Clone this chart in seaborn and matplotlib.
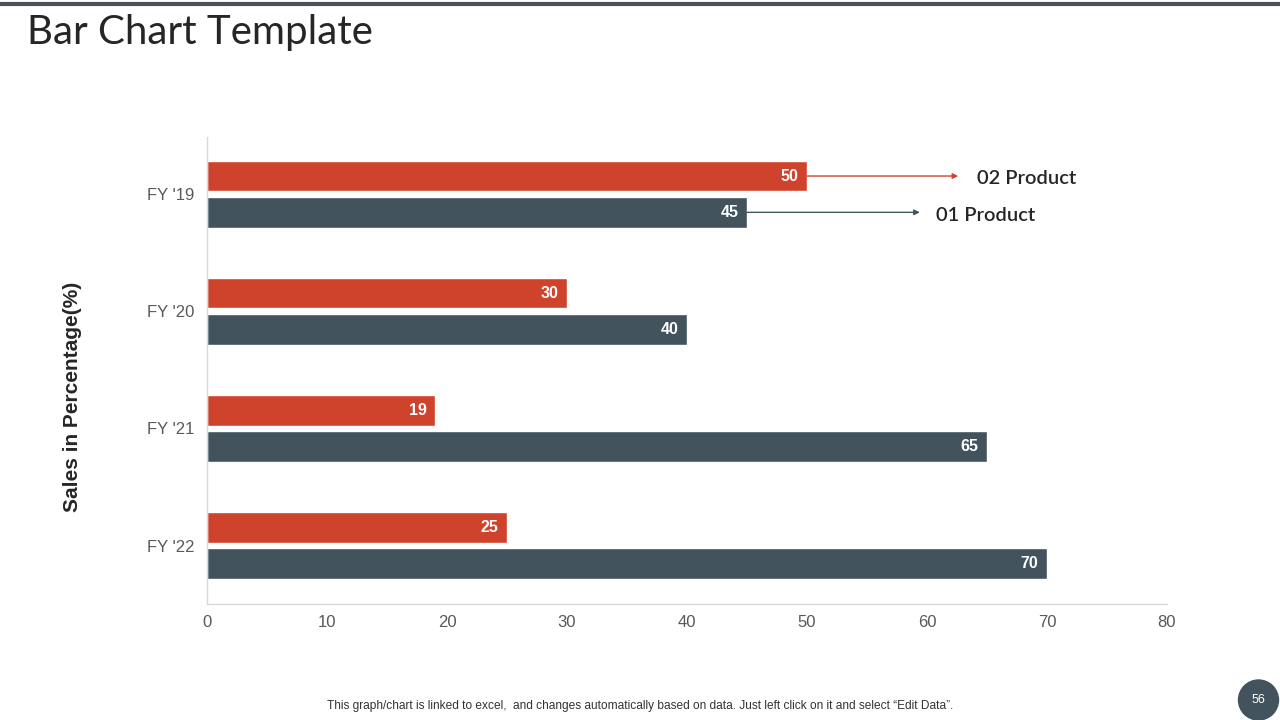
import matplotlib
matplotlib.use('Agg')
import matplotlib.pyplot as plt
from matplotlib.patches import Circle
import seaborn as sns
import pandas as pd

# Chart data
years = ["FY '19", "FY '20", "FY '21", "FY '22"]
product_02 = [50, 30, 19, 25]
product_01 = [45, 40, 65, 70]
series_names = ['02 Product', '01 Product']

red = '#CF432D'
slate = '#42535E'

df = pd.DataFrame({
    'year': years * 2,
    'value': product_02 + product_01,
    'series': [series_names[0]] * len(years) + [series_names[1]] * len(years),
})

sns.set_style('white')
plt.rcParams['font.family'] = ['Liberation Sans', 'DejaVu Sans']

fig = plt.figure(figsize=(12.8, 7.2), dpi=100)
ax = fig.add_axes([0.1617, 0.161, 0.75, 0.649])

sns.barplot(data=df, y='year', x='value', hue='series', order=years,
            hue_order=series_names, palette=[red, slate], orient='h',
            width=0.62, gap=0.16, ax=ax, saturation=1)

ax.set_xlim(0, 80)
ax.set_ylim(3.50, -0.49)
ax.set_xticks(range(0, 81, 10))
ax.tick_params(axis='x', labelsize=12, labelcolor='#595959', length=0, pad=8)
ax.tick_params(axis='y', labelsize=12, labelcolor='#595959', length=0, pad=9)
ax.set_xlabel('')
ax.set_ylabel('Sales in Percentage(%)', fontsize=15, fontweight='bold', color='#262626')
ax.yaxis.set_label_coords(-0.130, 0.443)
ax.legend().remove()
for side in ['top', 'right']:
    ax.spines[side].set_visible(False)
for side in ['left', 'bottom']:
    ax.spines[side].set_color('#D9D9D9')
    ax.spines[side].set_linewidth(1)

# value labels inside bar ends
for cont in ax.containers:
    ax.bar_label(cont, padding=-19, color='white', fontsize=11.5, fontweight='bold')

# arrows pointing to the series names
y_off = 0.155
ax.annotate('', xy=(62.6, -y_off), xytext=(50, -y_off),
            arrowprops=dict(arrowstyle='-|>', color=red, lw=1, mutation_scale=8,
                            shrinkA=0, shrinkB=0))
ax.annotate('', xy=(59.4, y_off), xytext=(45, y_off),
            arrowprops=dict(arrowstyle='-|>', color=slate, lw=1, mutation_scale=8,
                            shrinkA=0, shrinkB=0))
ax.text(64.2, -y_off + 0.025, series_names[0], fontsize=14.5, color='#262626',
        fontweight='semibold', va='center', family=['Lato', 'DejaVu Sans'])
ax.text(60.75, y_off + 0.025, series_names[1], fontsize=14.5, color='#262626',
        fontweight='semibold', va='center', family=['Lato', 'DejaVu Sans'])

# slide decorations
fig.add_artist(plt.Line2D([0, 1], [0.994, 0.994], color='#47525C', lw=3))
fig.text(0.021, 0.955, 'Bar Chart Template', fontsize=29, color='#262626',
         va='center', ha='left', family=['Lato', 'DejaVu Sans'])
fig.text(0.5, 0.019, 'This graph/chart is linked to excel,  and changes automatically based on data. '
         'Just left click on it and select \u201cEdit Data\u201d.',
         fontsize=8.6, color='#333333', ha='center', va='center')
fig.add_artist(Circle((12.585, 0.20), 0.2, color=slate, transform=fig.dpi_scale_trans))
fig.text(1258.5 / 1280, 20 / 720, '56', fontsize=9, color='white', ha='center', va='center')

fig.savefig('out.png', dpi=100)
